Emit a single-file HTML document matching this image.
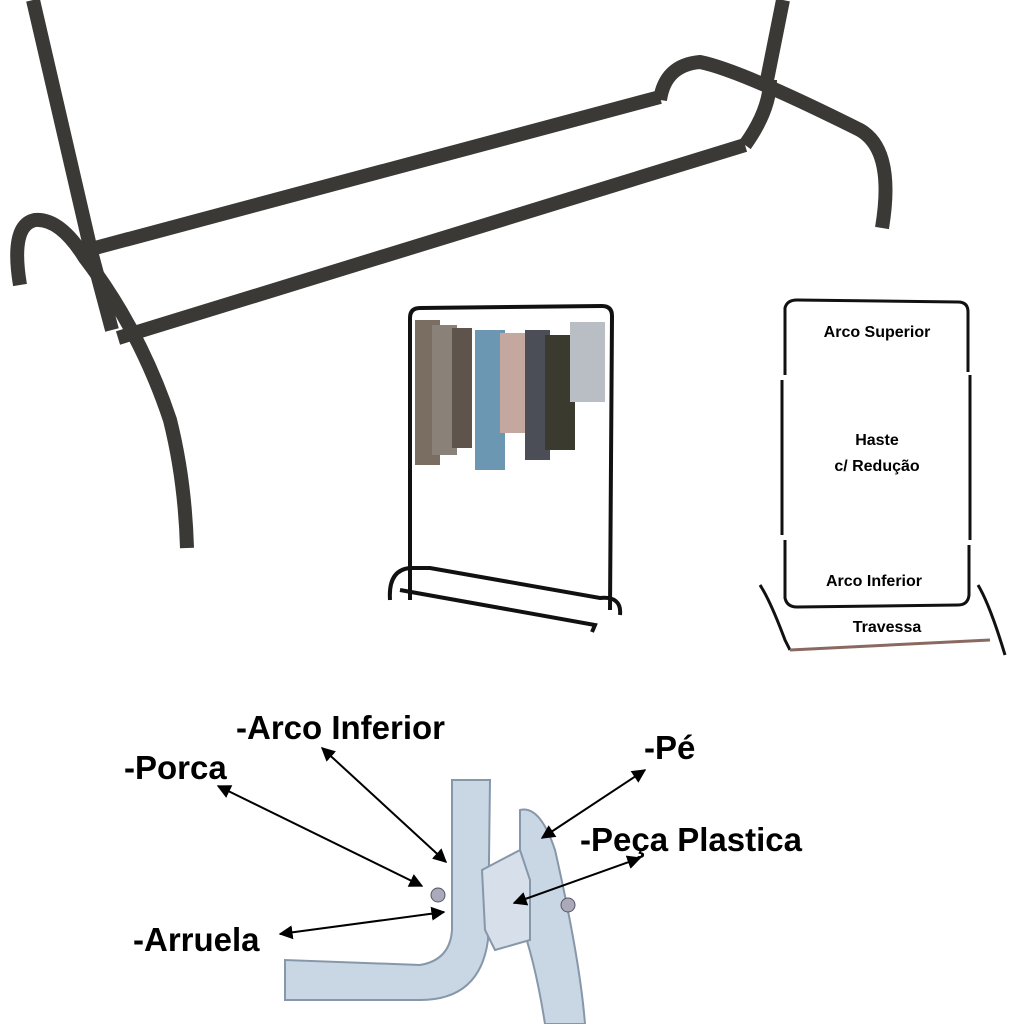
<!DOCTYPE html>
<html><head><meta charset="utf-8"><style>
html,body{margin:0;padding:0;background:#fff}
svg{display:block}
text{font-family:"Liberation Sans",sans-serif;font-weight:bold;fill:#000}
</style></head><body>
<svg width="1024" height="1024" viewBox="0 0 1024 1024" xmlns="http://www.w3.org/2000/svg">
<defs>
<marker id="ah" viewBox="0 0 10 10" refX="9" refY="5" markerWidth="7" markerHeight="7" orient="auto-start-reverse"><path d="M0,0 L10,5 L0,10 z" fill="#000"/></marker>
</defs>
<g fill="none" stroke="#3b3936" stroke-width="14" stroke-linecap="butt" stroke-linejoin="round">
<path d="M33,0 L92,255 L112,330"/>
<path d="M95,248 L660,97"/>
<path d="M118,338 L745,145"/>
<path d="M20,285 Q10,225 35,220 Q60,218 85,258 Q140,330 170,420 Q185,480 187,548"/>
<path d="M660,100 Q665,65 700,62 Q740,70 860,130 Q895,150 882,228"/>
<path d="M783,0 L765,90"/>
<path d="M745,145 Q770,110 770,80"/>
</g>
<g fill="none" stroke="#111" stroke-width="4">
<path d="M410,600 L410,318 Q410,308 420,308 L602,306 Q612,306 612,316 L610,610"/>
<path d="M390,600 Q388,570 410,568 L430,568 L600,598 Q622,596 620,615"/>
<path d="M400,590 L595,625 L592,632"/>
</g>
<g>
<rect x="415" y="320" width="25" height="145" fill="#7a6e63"/>
<rect x="432" y="325" width="25" height="130" fill="#8a8178"/>
<rect x="452" y="328" width="20" height="120" fill="#5e544b"/>
<rect x="475" y="330" width="30" height="140" fill="#6b97b3"/>
<rect x="500" y="333" width="25" height="100" fill="#c4a8a0"/>
<rect x="525" y="330" width="25" height="130" fill="#4b4e56"/>
<rect x="545" y="335" width="30" height="115" fill="#3a3a2e"/>
<rect x="570" y="322" width="35" height="80" fill="#b8bec4"/>
</g>
<g fill="none" stroke="#111" stroke-width="3">
<path d="M785,375 L785,308 Q787,300 797,300 L958,302 Q968,302 968,312 L968,372"/>
<path d="M782,380 L782,535"/><path d="M970,375 L970,540"/>
<path d="M785,540 L785,598 Q787,607 797,607 L958,605 Q968,605 969,595 L969,545"/>
<path d="M760,585 Q770,600 785,640 L790,650"/>
<path d="M978,585 Q990,605 1005,655"/>
</g>
<path d="M790,650 L990,640" stroke="#8a6a60" stroke-width="3"/>
<text x="877" y="337" font-size="16" text-anchor="middle">Arco Superior</text>
<text x="877" y="445" font-size="16" text-anchor="middle">Haste</text>
<text x="877" y="471" font-size="16" text-anchor="middle">c/ Redução</text>
<text x="874" y="586" font-size="16" text-anchor="middle">Arco Inferior</text>
<text x="887" y="632" font-size="16" text-anchor="middle">Travessa</text>
<g fill="#c9d6e4" stroke="#8797aa" stroke-width="2">
<path d="M452,780 L490,780 L488,940 Q480,1000 420,1000 L285,1000 L285,960 L420,965 Q450,960 452,930 Z"/>
<path d="M520,810 Q540,805 555,850 Q580,960 585,1024 L545,1024 Q535,960 520,920 Z"/>
<path d="M482,870 L520,850 L530,880 L530,940 L495,950 L485,930 Z" fill="#d6dfea"/>
</g>
<circle cx="438" cy="895" r="7" fill="#aab" stroke="#556"/>
<circle cx="568" cy="905" r="7" fill="#aab" stroke="#556"/>
<g font-size="33">
<text x="236" y="739">-Arco Inferior</text>
<text x="124" y="779">-Porca</text>
<text x="644" y="759">-Pé</text>
<text x="580" y="851">-Peça Plastica</text>
<text x="133" y="951">-Arruela</text>
</g>
<g stroke="#000" stroke-width="2" marker-start="url(#ah)" marker-end="url(#ah)">
<line x1="322" y1="748" x2="446" y2="862"/>
<line x1="218" y1="786" x2="422" y2="886"/>
<line x1="645" y1="770" x2="542" y2="838"/>
<line x1="640" y1="858" x2="514" y2="903"/>
<line x1="280" y1="934" x2="444" y2="912"/>
</g>
</svg>
</body></html>
